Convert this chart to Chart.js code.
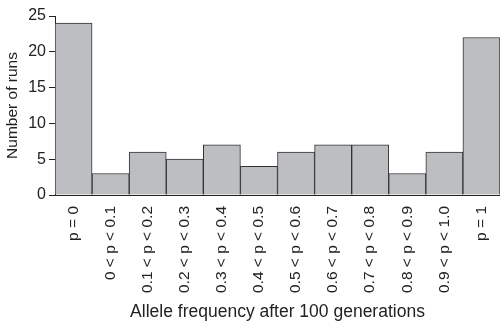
<!DOCTYPE html>
<html>
<head>
<meta charset="utf-8">
<script src="https://cdn.jsdelivr.net/npm/chart.js@4/dist/chart.umd.min.js"></script>
<style>
  html, body { margin: 0; padding: 0; background: #fff; }
  #wrap { width: 500px; height: 324px; position: relative; }
</style>
</head>
<body>
<div id="wrap"><canvas id="chart"></canvas></div>
<script>
const categories = [
  "p = 0", "0 < p < 0.1", "0.1 < p < 0.2", "0.2 < p < 0.3", "0.3 < p < 0.4",
  "0.4 < p < 0.5", "0.5 < p < 0.6", "0.6 < p < 0.7", "0.7 < p < 0.8",
  "0.8 < p < 0.9", "0.9 < p < 1.0", "p = 1"
];
const runs = [24, 3, 6, 5, 7, 4, 6, 7, 7, 3, 6, 22];
const yTicks = [0, 5, 10, 15, 20, 25];

const font = "'Liberation Sans', Arial, Helvetica, sans-serif";
const ink = "#222";

new Chart(document.getElementById("chart"), {
  type: "bar",
  data: {
    labels: categories,
    datasets: [{
      data: runs,
      backgroundColor: "#bdbec2",
      borderColor: "#333",
      borderWidth: 1,
      barPercentage: 1,
      categoryPercentage: 1,
    }],
  },
  options: {
    responsive: true,
    maintainAspectRatio: false,
    animation: false,
    layout: { padding: { top: 16, right: 0, left: 0, bottom: 0 } },
    plugins: { legend: { display: false }, tooltip: { enabled: false } },
    scales: {
      x: {
        grid: { display: false },
        border: { display: true, color: ink, width: 1 },
        ticks: {
          color: ink,
          font: { family: font, size: 15.5 },
          minRotation: 90,
          maxRotation: 90,
          autoSkip: false,
          padding: 3,
        },
        title: {
          display: true,
          text: "Allele frequency after 100 generations",
          color: ink,
          font: { family: font, size: 17.5 },
          padding: { top: 4, bottom: 1 },
        },
        afterFit: (scale) => { scale.height = 129; scale.paddingRight = 0; },
      },
      y: {
        min: 0,
        max: 25,
        afterBuildTicks: (scale) => { scale.ticks = yTicks.map((v) => ({ value: v })); },
        grid: { drawOnChartArea: false, drawTicks: true, tickLength: 6, color: ink },
        border: { display: true, color: ink, width: 1 },
        ticks: {
          color: ink,
          font: { family: font, size: 16 },
          padding: 3,
        },
        title: {
          display: true,
          text: "Number of runs",
          color: ink,
          font: { family: font, size: 15.5 },
          padding: { top: 3, bottom: 3 },
        },
        afterFit: (scale) => { scale.width = 55; },
      },
    },
  },
});
</script>
</body>
</html>
